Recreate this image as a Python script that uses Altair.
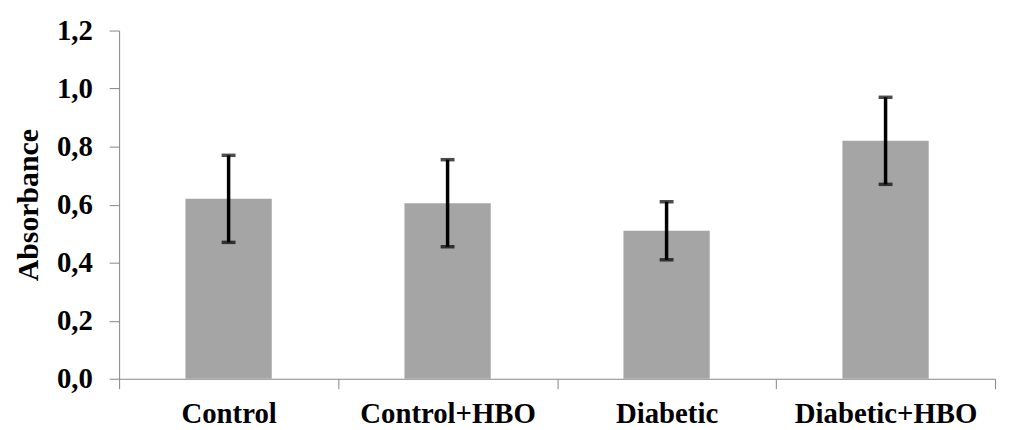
import altair as alt
import pandas as pd

groups = ["Control", "Control+HBO", "Diabetic", "Diabetic+HBO"]
means = [0.62, 0.605, 0.51, 0.82]
errs = [0.15, 0.15, 0.10, 0.15]

df = pd.DataFrame({
    "group": groups,
    "mean": means,
    "lo": [m - e for m, e in zip(means, errs)],
    "hi": [m + e for m, e in zip(means, errs)],
})

FONT = "Liberation Serif"
AX = "#868686"

x = alt.X(
    "group:N",
    sort=groups,
    scale=alt.Scale(paddingInner=0, paddingOuter=0),
    axis=alt.Axis(
        title=None, labelAngle=0, labelFont=FONT, labelFontSize=29,
        labelFontWeight="bold", labelColor="black", labelPadding=11,
        labelLimit=400,
        tickBand="extent", tickSize=10, tickColor=AX, domainColor=AX,
        tickWidth=1, domainWidth=1,
    ),
)

y_axis = alt.Axis(
    title="Absorbance", titleFont=FONT, titleFontSize=30, titleFontWeight="bold",
    titleColor="black", titlePadding=13,
    values=[0, 0.2, 0.4, 0.6, 0.8, 1.0, 1.2],
    labelExpr="replace(format(datum.value, '.1f'), '.', ',')",
    labelFont=FONT, labelFontSize=29, labelFontWeight="bold", labelColor="black",
    labelPadding=17, tickSize=10, tickColor=AX, domainColor=AX, grid=False,
)

base = alt.Chart(df)

bars = base.mark_bar(color="#a5a5a5", width=alt.RelativeBandSize(0.394)).encode(
    x=x,
    y=alt.Y("mean:Q", scale=alt.Scale(domain=[0, 1.2], nice=False), axis=y_axis),
)

rules = base.mark_rule(color="black", strokeWidth=3.5).encode(
    x=alt.X("group:N", sort=groups), y="lo:Q", y2="hi:Q"
)
cap_lo = base.mark_tick(color="black", size=14, thickness=3.5, orient="horizontal").encode(
    x=alt.X("group:N", sort=groups), y="lo:Q"
)
cap_hi = base.mark_tick(color="black", size=14, thickness=3.5, orient="horizontal").encode(
    x=alt.X("group:N", sort=groups), y="hi:Q"
)

chart = alt.layer(bars, rules, cap_lo, cap_hi).properties(
    width=883, height=351,
    background="white",
    autosize=alt.AutoSizeParams(type="none"),
    padding={"left": 112, "top": 21, "right": 8, "bottom": 60},
).configure_view(strokeWidth=0, stroke="transparent")

chart.save("out.html", embed_options={"renderer": "svg", "actions": False})
